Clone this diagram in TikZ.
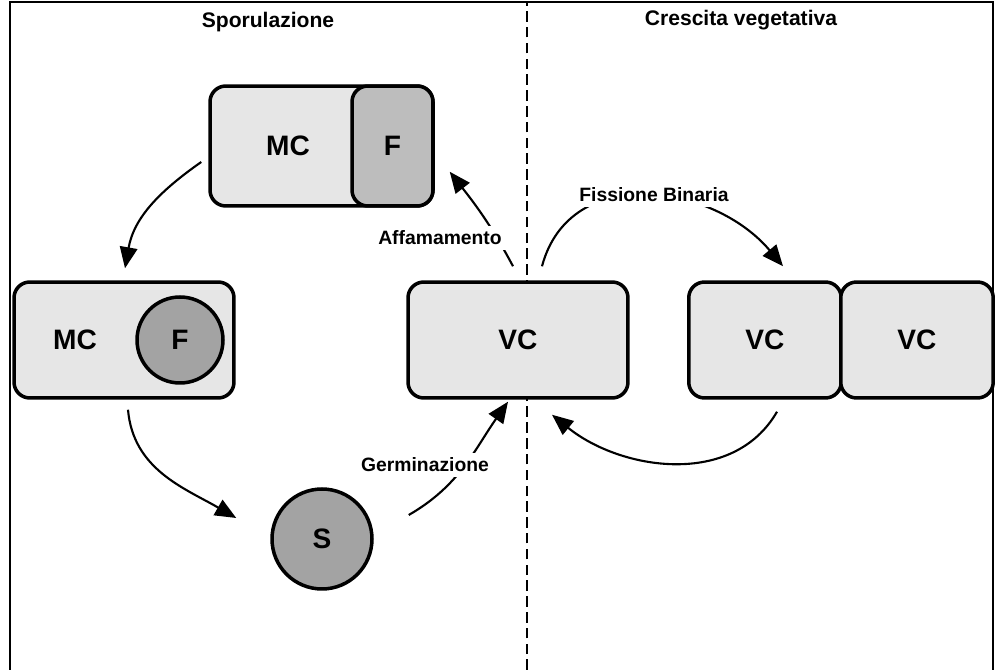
\documentclass[tikz,border=0pt]{standalone}
\usepackage{fontspec}
\setmainfont{Liberation Sans}
\usetikzlibrary{arrows.meta, calc}
\definecolor{cellgray}{HTML}{E6E6E6}
\definecolor{forespore}{HTML}{BDBDBD}
\definecolor{sporegray}{HTML}{A3A3A3}

\begin{document}
\begin{tikzpicture}[
    x=0.02cm, y=0.02cm,
    cellbox/.style={draw, line width=2pt, rounded corners=9pt, fill=cellgray, inner sep=0pt, font=\bfseries\fontsize{16}{18}\selectfont},
    sporeball/.style={draw, circle, line width=2pt, fill=sporegray, inner sep=0pt, font=\bfseries\fontsize{16}{18}\selectfont},
    celltext/.style={font=\bfseries\fontsize{16}{18}\selectfont},
    flow/.style={-{Triangle[length=12pt, width=10pt]}, line width=1.2pt},
    steplbl/.style={fill=white, inner sep=3pt, font=\bfseries\fontsize{11}{13}\selectfont},
    phase/.style={font=\bfseries\fontsize{12}{14}\selectfont},
]
\useasboundingbox (0,0) rectangle (995,670);

% frame and divider
\draw[line width=1.4pt] (10,0) -- (10,668) -- (993,668) -- (993,0);
\draw[line width=0.9pt, dash pattern=on 6pt off 3pt] (527,0) -- (527,668);

\node[phase] (spor) at (268,648) {Sporulazione};
\node[phase] (cresc) at (741,650) {Crescita vegetativa};

% sporulation side
\node[cellbox, minimum width=4.46cm, minimum height=2.4cm] (top) at (321.5,524) {};
\node[cellbox, fill=forespore, minimum width=1.62cm, minimum height=2.4cm] (topF) at (392.5,524) {F};
\node[celltext] (topMC) at (288,524) {MC};

\node[cellbox, minimum width=4.4cm, minimum height=2.32cm] (left) at (124,330) {};
\node[sporeball, minimum size=1.72cm] (leftF) at (180,330) {F};
\node[celltext] (leftMC) at (75,330) {MC};

\node[sporeball, minimum size=2cm] (spore) at (322,131) {S};

% vegetative side
\node[cellbox, minimum width=4.4cm, minimum height=2.32cm] (vc) at (518,330) {VC};
\node[cellbox, minimum width=3.05cm, minimum height=2.32cm] (vcA) at (765,330) {VC};
\node[cellbox, minimum width=3.05cm, minimum height=2.32cm] (vcB) at (917,330) {VC};

% cycle arrows
\draw[flow] ($(top.west)+(-7,-16)$) to[out=215, in=80] ($(left.north)+(1,12)$);
\draw[flow] ($(left.south)+(4,-10)$) to[out=-85, in=150] ($(spore.west)+(-34,21)$);
\draw[flow] ($(spore.east)+(35,24)$) to[out=30, in=235] ($(vc.south)+(-10,-2)$);
\draw[flow] ($(vc.north)+(-5,14)$) to[out=118, in=-52] ($(top.south east)+(15,36)$);
\draw[flow] ($(vc.north)+(24,14)$) to[out=75, in=130, looseness=1.15] ($(vcA.north)+(18,14)$);
\draw[flow] ($(vcA.south)+(12,-12)$) to[out=-120, in=-39] ($(vc.south)+(34,-15)$);

\node[steplbl] (germ) at (425,205) {Germinazione};
\node[steplbl] (starve) at (440,432) {Affamamento};
\node[steplbl] (fiss) at (654,475) {Fissione Binaria};

\end{tikzpicture}
\end{document}
